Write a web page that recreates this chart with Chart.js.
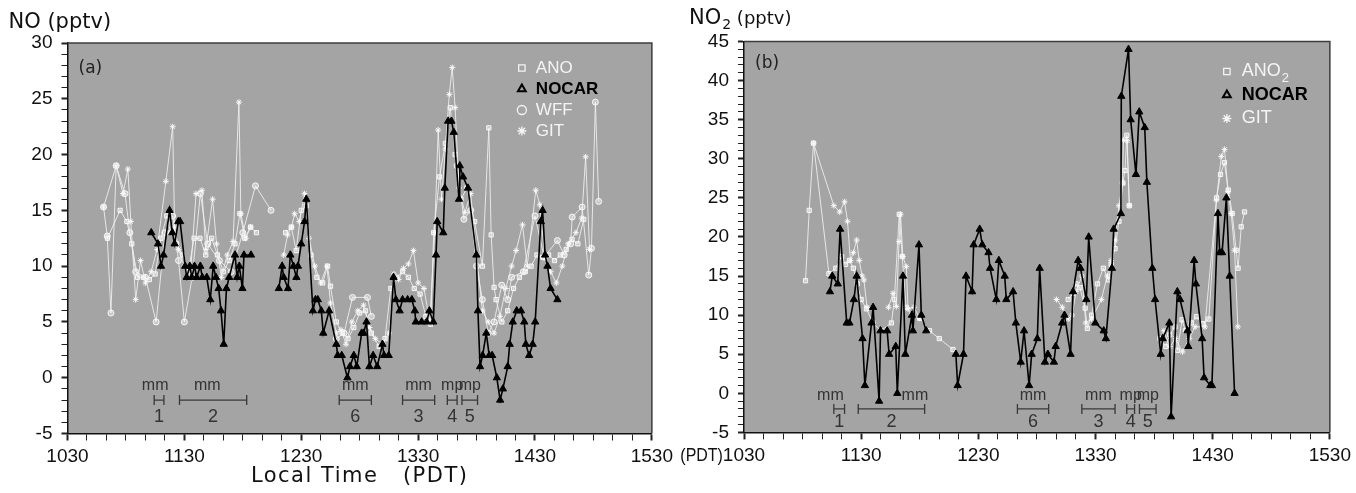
<!DOCTYPE html>
<html>
<head>
<meta charset="utf-8">
<title>NO and NO2 intercomparison</title>
<script src="https://cdn.jsdelivr.net/npm/chart.js@4.4.1/dist/chart.umd.min.js"></script>
<style>
  body { margin: 0; background: #fff; }
  #wrap { position: relative; width: 1356px; height: 493px; }
  #wrap canvas { position: absolute; top: 0; }
  #chartA { left: 0; }
  #chartB { left: 678px; }
</style>
</head>
<body>
<div id="wrap">
  <canvas id="chartA" width="678" height="493"></canvas>
  <canvas id="chartB" width="678" height="493"></canvas>
</div>
<script>
// x = minutes after 10:30 PDT, y = mixing ratio (pptv); null = gap in the record
const timeLabels = ['1030', '1130', '1230', '1330', '1430', '1530'];

// panel (a) NO
const noAno = [
    [20.5,12.5],[27,15],[30.5,14],[33,12],[36,9],[39,9],[42,8.8],[45,9.3],[48,12.5],[51,14.5],[53,13],
    [56,12],[59,11],[62,9.5],[65,12.5],[68,12.5],[71,11],[74,12.5],[77,11],[80,9.5],[83,10.5],[86,12],
    [88.5,14.7],[91,12.5],[94,13.5],[97,13], null,
    [112,13],[114.9,13.5],[117.4,11.4],[120,15],[122.5,15.4],[125,11],[128,9],[131,8.5],[133.5,10],
    [135,8.2],[138,5],[141,4],[144,3.5],[147,4.5],[150,5.8],[153,6],[156,4],[160,2.8],[163,3.5],[166,8],
    [169,9],[172,9.5],[175,9],[178,8],[181,7.5],[184,5.5],[186.5,4.8],[188,13],[191,18],[194,21],
    [196.5,24.2],[199,20],[202,16],[205,17],[209,14],[213,10],[216.3,22.4],[217.5,12.8],[219,8.1],
    [220,7],[223,5],[226,6],[229,8],[232,9],[235,9.5],[238,10],[241,11],[244,10.8],[247,11],[250,10.5],
    [253,11],[256,11.5],[259,12.4],[262,12],[265,14.2]
];
const noNocar = [
    [43,13],[46.5,12],[48,10],[49.3,11],[52.4,15],[53.8,13],[55,12],[56.9,14],[57.8,14],[60.4,10],
    [61.2,9],[62.8,10],[63.8,9],[65.2,10],[66.3,9],[68.2,10],[69.2,9],[71.5,9],[73.3,7],[74.8,10],
    [76.2,9],[77.6,8],[78.8,6],[80.2,3],[81.6,8],[83,9],[86,11],[87.1,9],[88.2,10],[89.8,8],[90.6,11],
    [94.2,11], null,
    [108.5,8],[110.2,10],[111,9],[113.2,8],[114.4,11],[116,10],[117.5,9],[118.3,10],[120,12],[121.7,14],
    [122.6,16],[126,6],[127.3,7],[128.5,7],[130.3,6],[131.3,4],[134.3,6],[138,3],[138.7,2],[140.8,2],
    [143.7,0],[145,1],[147,2],[148.5,1],[151,4],[152,4],[153.5,5],[155,1],[156.9,2],[159,1],[161.7,3],
    [162.5,2],[164.9,2],[167.4,9],[168.6,7],[170.5,6],[172,7],[174.6,7],[176.8,7],[178.3,6],[178.8,5],
    [181.8,5],[184.4,5],[185.8,6],[187.8,5],[189.2,11],[189.8,14],[192.9,13],[193.7,17],[195.4,23],
    [197.1,23],[198.3,22],[201,16],[201.4,19],[203.1,18],[205.6,17],[209.9,11],[210.7,6],[211.8,1],
    [213.1,2],[215,4],[216.5,2],[218,2],[220.4,0],[222.1,-2],[223.5,-1],[226,1],[227,3],[228.6,5],
    [230.6,6],[232.8,6],[234.5,5],[235.3,3],[237,2],[238.8,3],[240.1,5],[243,14],[243.9,15],[245.2,11],
    [246.4,10],[248,8],[251.5,7]
];
const noWff = [
    [18.5,15.3],[20.4,12.7],[22.3,5.8],[25,19],[29.5,16.5],[32,13],[35,9.5],[40,9],[45.5,5],[50,13],
    [54,14.5],[57,10.5],[60,5],[64,9],[68.2,16.5],[72,12],[78,10.5],[84,9.5],[90,13],[96.5,17.2],
    [104.5,15], null,
    [138,3.5],[142,4],[146.3,7.2],[154,7.2],[156,5.5], null,
    [200,19],[203.5,14.2],[207,15],[210,10],[213,7],[216,4],[219,5],[222.9,8.3],[226,7],[228,9],
    [234,9.5],[240,14.5],[244.7,10.8],[251.5,12.3],[255,11],[258.3,12],[259.1,14.4],[264.2,15.3],
    [267.6,9.2],[269,11.6],[271,24.7],[272.7,15.8]
];
const noGit = [
    [18.5,15.3],[25,19],[28.5,16.5],[31,18.7],[32.5,14],[35,7],[37.5,10.5],[40,8.5],[43,9.5],[46,11.5],
    [50.5,17.6],[54,22.5],[55,13.5],[57,11.5],[60,10],[63,9],[66,16.5],[69,16.8],[71,11.5],[74.5,16],
    [76.5,12],[79,9],[82,11],[85,12.2],[88,24.7],[89,14.7],[91.5,12.5],[94,13.5], null,
    [111,11],[113,12.8],[115,13.5],[116.6,14.7],[119,14],[121.7,16.5],[124,12.5],[127,10],[130,8.5],
    [133.2,10],[135,6.7],[138,4],[140.4,4.3],[143,3],[146,5],[149,6],[152,6.5],[155,4.5],[158,3.5],
    [162,3],[165,4],[167.5,9.3],[170,8.8],[172.5,9.8],[175,10.2],[177.6,11.4],[180,8.5],[183,8],[186,5],
    [188.5,13],[190.3,22.2],[192,16],[194,20.5],[196,25.4],[197.5,27.8],[199,24.2],[201,17],[204,14.8],
    [207,16.5],[210,11],[213,6],[216,5],[219,4],[222,5.5],[225,8],[228,10],[230.3,11.4],[233.6,13.7],
    [236,10],[240.4,16.8],[242.5,15.5],[245,10.8],[248,9.5],[251,8.5],[254,10],[257,12],[261,13],
    [264,14.3],[266,19.8],[268,11.5]
];

// panel (b) NO2
const no2Ano = [
    [31.5,14.4],[33.4,23.4],[35.6,32],[43.5,15.3],[47,16],[50,17.5],[52,16.5],[54,17],[56,16],[58,14],
    [60,12],[62.7,10.8],[66,9],[70,8],[75.5,9],[77,12],[79.5,22.9],[81,17.5],[83,11],[86,10],[90,9.6],
    [95,8],[100,7],[107,5.6], null,
    [166,12],[168.5,12.8],[170,14],[172,13.5],[174.7,10.9],[175.8,8.3],[178,10],[181,14],[184,16],
    [186.7,14.5],[188,16.5],[190,18.5],[192,22],[194,26.9],[195.1,28.5],[196,33],[197.3,24], null,
    [213,7],[216,6],[218,7.5],[220.7,8.5],[222,5.5],[224.3,9.4],[226,8],[229,9],[231.7,9.8],[235,8.9],
    [238,9.5],[242,25],[244,28],[246,29.5],[248,26],[250,23],[252,18.3],[253,16],[254.6,21.3],[256.3,23.2]
];
const no2Nocar = [
    [44,13],[45.2,15],[48,14],[49.2,21],[52.6,9],[54,9],[56.3,12],[57.7,15],[60.7,7],[61.9,1],[65.3,9],
    [66.1,11],[69.2,-1],[69.9,8],[73.3,8],[74.3,5],[77.7,6],[78.5,0],[81.4,15],[82.6,5],[86,10],[86.5,8],
    [89.6,19],[90.8,10],[93.3,8], null,
    [108.5,5],[109.4,1],[112.4,5],[113.7,15],[116.8,13],[117.6,19],[120.7,21],[122,19],[125.2,18],
    [126,16],[129.2,12],[130.5,17],[133.5,15],[134.3,12],[137.8,13],[139.2,9],[141.7,4],[143.4,8],
    [146,1],[147.3,5],[150.2,7],[151.4,16],[154.1,4],[155.6,5],[158.7,4],[159.6,6],[162.9,9],[164.1,10],
    [167.2,5],[168.5,13],[171.1,17],[172.3,16],[175.3,12],[176.5,20],[179.9,9],[184.2,8],[185.3,7],
    [188.4,16],[189.3,21],[193,23],[193.2,38],[196.9,44],[198,35],[200.7,28],[202.4,36],[205.2,34],
    [206.3,27],[209.1,16],[210.5,12],[213.4,5],[214.4,7],[217.8,9],[218.7,-3],[221.9,13],[223.3,12],
    [227.1,8],[227.5,6],[230.5,17],[231.4,14],[234.6,7],[235.6,2],[238.8,1],[239.6,1],[242.7,23],
    [243.6,18],[244.8,18],[247,25],[248.7,15],[251.2,0]
];
const no2Git = [
    [35.6,32],[46,24],[49,23.2],[51.5,24.5],[53,22],[54.5,17],[56,18],[57.7,19.6],[59,17],[60.5,15],
    [61.4,14.5],[63,11], null,
    [74,11],[76.3,12.8],[78,11.1],[79.4,19.4],[80.2,22.9],[81.3,17.5],[83.1,16.2],[84,10.8],[87,11],
    [90,9.6], null,
    [160,12],[163,11],[166,9.5],[168,10],[170,13],[173,15],[175,9],[178,9.5],[183,12],[186,15],[188,17],
    [190.1,19.6],[192,24],[193.8,26.9],[194.3,32.4],[196.2,32.3],[197.3,24], null,
    [215,8],[218,6],[221,7],[224.5,5.3],[228,7],[231,8.5],[236,8.5],[241.9,24.7],[244.4,30.3],
    [246.1,31.2],[247.8,25.8],[249.5,23],[251.2,18.3],[252.9,8.5]
];

// sampling legs: start, end, label above, leg number
const legsA = [[44.5,49.5,'mm','1'],[57.5,92,'mm','2'],[139.5,156,'mm','6'],[172,188.5,'mm','3'],[195,200,'mp','4'],[202.5,210.5,'mp','5']];
const legsB = [[46,51.5,'mm','1'],[58.5,92.5,'mm','2'],[140,156,'mm','6'],[173,190,'mm','3'],[196,200,'mp','4'],[202.5,211,'mp','5']];

const GREY = '#a4a4a4';
const tickFam = '"Liberation Sans"';
const tickFont = { family: tickFam, size: 19 };

function toPoints(arr) {
    return arr.map((p, i) => p ? { x: p[0], y: p[1] } : { x: arr[i - 1][0] + 0.5, y: null });
}

function whiteSeries(label, data, style, order, sub) {
    return {
        label: label, labelSub: sub || '', data: toPoints(data), order: order,
        pointStyle: style, pointRadius: 3, pointBorderWidth: 1,
        pointBorderColor: 'rgba(250,250,250,0.95)', pointBackgroundColor: 'rgba(255,255,255,0.4)',
        borderColor: 'rgba(242,242,242,0.85)', borderWidth: 1,
        legendColor: '#f4f4f4', legendBold: false
    };
}

function nocarSeries(data) {
    return {
        label: 'NOCAR', data: toPoints(data), order: 0,
        pointStyle: 'triangle', pointRadius: 4.2, pointBorderWidth: 1,
        pointBorderColor: '#000', pointBackgroundColor: '#000',
        borderColor: '#000', borderWidth: 1.6,
        legendColor: '#000', legendBold: true
    };
}

const panelDeco = {
    id: 'panelDeco',
    beforeDraw(chart) {
        const { ctx, chartArea: a } = chart;
        ctx.save();
        ctx.fillStyle = GREY;
        ctx.fillRect(a.left, a.top, a.width, a.height);
        ctx.restore();
    },
    afterDraw(chart, args, o) {
        const { ctx, chartArea: a, scales } = chart;
        const xs = scales.x, ys = scales.y;
        ctx.save();

        // top and right frame
        ctx.strokeStyle = '#3c3c3c';
        ctx.lineWidth = 1.5;
        ctx.beginPath();
        ctx.moveTo(a.left, a.top);
        ctx.lineTo(a.right, a.top);
        ctx.lineTo(a.right, a.bottom);
        ctx.stroke();

        // flight legs
        ctx.strokeStyle = '#383838';
        ctx.fillStyle = '#333';
        ctx.lineWidth = 1.3;
        ctx.textAlign = 'center';
        ctx.textBaseline = 'middle';
        const yb = ys.getPixelForValue(-2);
        o.legs.forEach((leg, i) => {
            const x1 = xs.getPixelForValue(leg[0]);
            const x2 = xs.getPixelForValue(leg[1]);
            ctx.beginPath();
            ctx.moveTo(x1, yb); ctx.lineTo(x2, yb);
            ctx.moveTo(x1, yb - 5); ctx.lineTo(x1, yb + 5);
            ctx.moveTo(x2, yb - 5); ctx.lineTo(x2, yb + 5);
            ctx.stroke();
            const mid = (leg[0] + leg[1]) / 2;
            ctx.font = '16px "Liberation Sans"';
            ctx.fillText(leg[2], xs.getPixelForValue(mid + (o.legShift[i] || 0)), yb - o.legUp);
            ctx.font = '18px "Liberation Sans"';
            ctx.fillText(leg[3], xs.getPixelForValue(mid), yb + o.legDown);
        });

        // legend inside the plot
        const lg = o.legend;
        chart.data.datasets.forEach((ds, i) => {
            const cy = a.top + lg.top + i * lg.gap;
            const sx = a.right - lg.right;
            ctx.strokeStyle = ds.legendColor;
            ctx.fillStyle = 'rgba(0,0,0,0)';
            ctx.lineWidth = ds.legendBold ? 2 : 1.3;
            Chart.helpers.drawPoint(ctx, { pointStyle: ds.pointStyle, radius: 4.5, rotation: 0, borderWidth: 1 }, sx, cy);
            ctx.fillStyle = ds.legendColor;
            ctx.textAlign = 'left';
            ctx.font = (ds.legendBold ? 'bold ' : '') + lg.size + 'px "Liberation Sans"';
            ctx.fillText(ds.label, sx + lg.textGap, cy);
            if (ds.labelSub) {
                const w = ctx.measureText(ds.label).width;
                ctx.font = Math.round(lg.size * 0.72) + 'px "Liberation Sans"';
                ctx.fillText(ds.labelSub, sx + lg.textGap + w + 1, cy + lg.size * 0.38);
            }
        });

        // panel letter
        ctx.fillStyle = '#222';
        ctx.textAlign = 'left';
        ctx.font = '17px "DejaVu Sans"';
        ctx.fillText(o.letter, a.left + 11, a.top + o.letterDy);

        // y title above the axis
        ctx.fillStyle = '#111';
        ctx.textBaseline = 'alphabetic';
        let tx = a.left - o.titleDx;
        const ty = o.titleY;
        ctx.font = '21px "DejaVu Sans"';
        ctx.fillText(o.title[0], tx, ty);
        tx += ctx.measureText(o.title[0]).width;
        if (o.title[1]) {
            ctx.font = '14px "DejaVu Sans"';
            ctx.fillText(o.title[1], tx + 1, ty + 5);
            tx += ctx.measureText(o.title[1]).width + 1;
        }
        ctx.font = o.title[1] ? '18px "DejaVu Sans"' : '21px "DejaVu Sans"';
        ctx.fillText(o.title[2], tx, ty);

        // x title / unit
        if (o.xTitle) {
            ctx.textAlign = 'center';
            ctx.font = '21px "DejaVu Sans"';
            if ('letterSpacing' in ctx) ctx.letterSpacing = '1.5px';
            ctx.fillText(o.xTitle, (a.left + a.right) / 2, a.bottom + 48);
            if ('letterSpacing' in ctx) ctx.letterSpacing = '0px';
        }
        if (o.xUnit) {
            // squeezed a little so it fits left of the first time label, as in the original
            ctx.textAlign = 'right';
            ctx.textBaseline = 'middle';
            ctx.font = '19px ' + tickFam;
            const half = ctx.measureText(timeLabels[0]).width / 2;
            const sq = 0.84;
            ctx.scale(sq, 1);
            ctx.fillText(o.xUnit, (xs.getPixelForValue(0) - half) / sq, a.bottom + 23);
        }
        ctx.restore();
    }
};

function makeChart(id, datasets, yMax, box, deco) {
    return new Chart(document.getElementById(id), {
        type: 'line',
        data: { datasets: datasets },
        options: {
            responsive: false,
            animation: false,
            events: [],
            layout: { padding: { left: 0, right: box.right, top: box.top, bottom: 0 } },
            scales: {
                x: {
                    type: 'linear', min: 0, max: 300,
                    afterFit: s => { s.height = box.xHeight; },
                    ticks: {
                        stepSize: 10, autoSkip: false, maxRotation: 0, padding: 5,
                        color: '#111', font: tickFont,
                        callback: v => v % 60 === 0 ? timeLabels[v / 60] : ''
                    },
                    grid: {
                        drawOnChartArea: false, tickLength: 7, tickColor: '#222',
                        tickWidth: c => (c.tick && c.tick.value % 60 === 0) ? 2 : 1
                    },
                    border: { color: '#111', width: 1.5 }
                },
                y: {
                    min: -5, max: yMax,
                    afterFit: s => { s.width = box.yWidth; },
                    ticks: {
                        stepSize: 1, autoSkip: false, padding: 9,
                        color: '#111', font: tickFont,
                        callback: v => v % 5 === 0 ? String(v) : ''
                    },
                    grid: {
                        drawOnChartArea: false, tickLength: 6, tickColor: '#222',
                        tickWidth: c => (c.tick && c.tick.value % 5 === 0) ? 2 : 1
                    },
                    border: { color: '#111', width: 1.5 }
                }
            },
            plugins: {
                legend: { display: false },
                tooltip: { enabled: false },
                panelDeco: deco
            }
        },
        plugins: [panelDeco]
    });
}

makeChart('chartA', [
    whiteSeries('ANO', noAno, 'rect', 3),
    nocarSeries(noNocar),
    whiteSeries('WFF', noWff, 'circle', 2),
    whiteSeries('GIT', noGit, 'star', 1)
], 30, { yWidth: 67.5, right: 21, top: 43, xHeight: 59.5 }, {
    legs: legsA, legShift: [-2, -3, 0, 0, 0, 0], legUp: 14, legDown: 17,
    legend: { top: 25, gap: 21, right: 130, textGap: 14, size: 17 },
    letter: '(a)', letterDy: 26,
    title: ['NO', '', ' (pptv)'], titleDx: 59, titleY: 28,
    xTitle: 'Local Time   (PDT)'
});

makeChart('chartB', [
    whiteSeries('ANO', no2Ano, 'rect', 2, '2'),
    nocarSeries(no2Nocar),
    whiteSeries('GIT', no2Git, 'star', 1)
], 45, { yWidth: 66, right: 25, top: 41.5, xHeight: 60.6 }, {
    legs: legsB, legShift: [-4.5, 12, 0, 0, 0, 0], legUp: 13, legDown: 13,
    legend: { top: 30, gap: 23.5, right: 103, textGap: 15, size: 18 },
    letter: '(b)', letterDy: 22,
    title: ['NO', '2', ' (pptv)'], titleDx: 55, titleY: 24,
    xUnit: '(PDT)'
});
</script>
</body>
</html>
